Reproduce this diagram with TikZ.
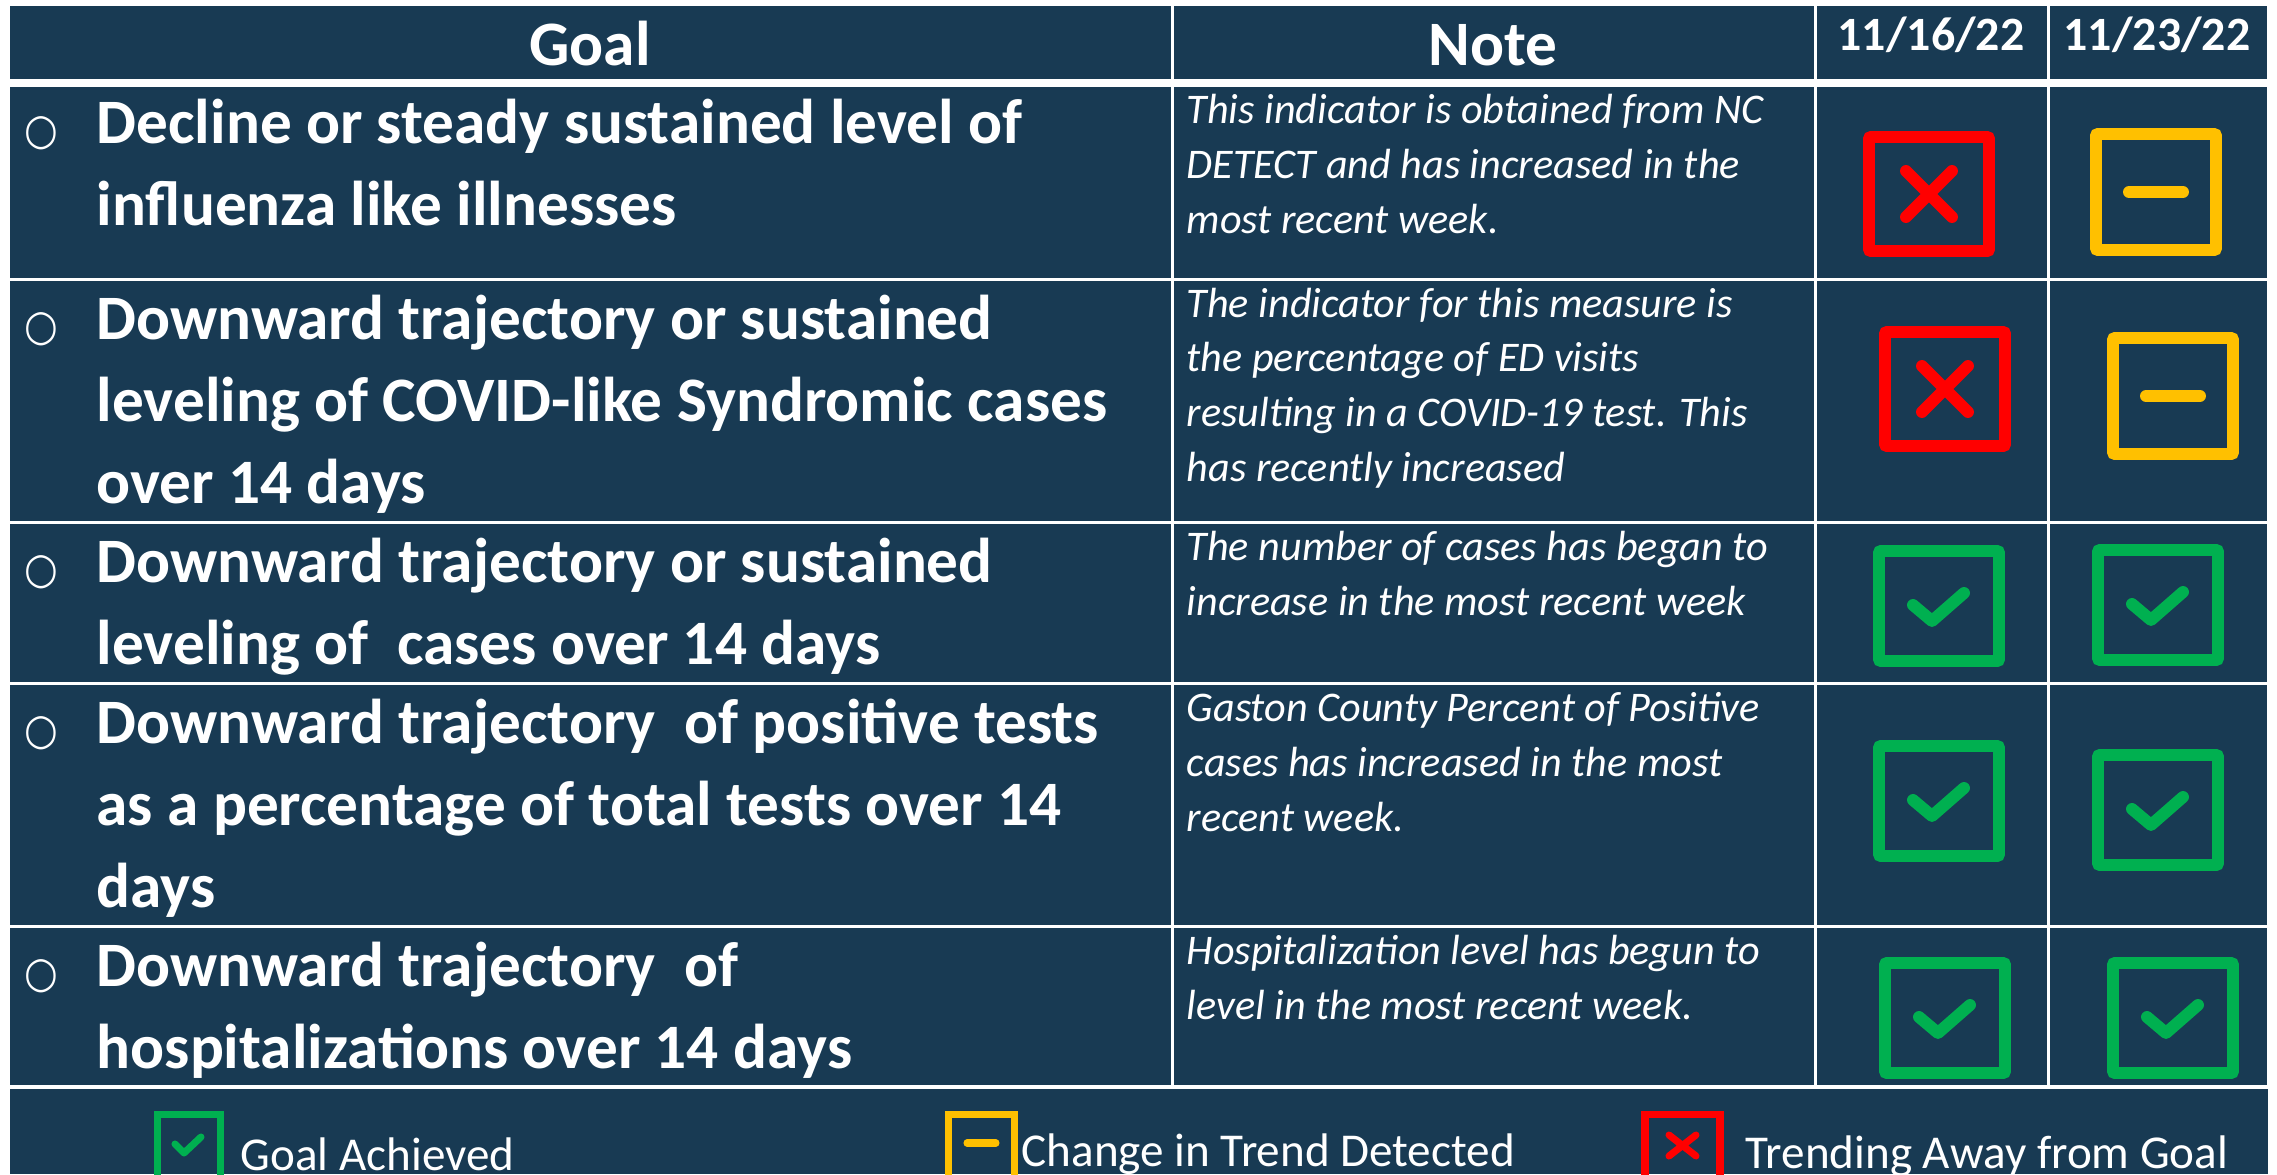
\documentclass[tikz,border=0pt]{standalone}
\usepackage{fontspec}
\setmainfont{Carlito}
\newfontfamily\bulletfont{DejaVu Sans}
\usepackage{tikz}
\usetikzlibrary{positioning}
\definecolor{navy}{HTML}{183A53}
\definecolor{achieved}{HTML}{00B050}
\definecolor{change}{HTML}{FFC000}
\definecolor{away}{HTML}{FF0000}

\begin{document}
\begin{tikzpicture}[
    x=0.01cm, y=-0.01cm,
    cell/.style = {rectangle, fill=navy, draw=none, inner sep=0pt, anchor=north west},
    head/.style = {text=white, font=\fontsize{18}{22}\selectfont\bfseries, inner sep=0pt, anchor=base},
    datehead/.style = {text=white, font=\fontsize{13.6}{16}\selectfont\bfseries, inner sep=0pt, anchor=base},
    goal/.style = {text=white, font=\fontsize{18}{23.3}\selectfont\bfseries, align=left, inner sep=0pt, anchor=base west},
    note/.style = {text=white, font=\fontsize{12}{15.5}\selectfont\itshape, align=left, inner sep=0pt, anchor=base west},
    bullet/.style = {text=white, font=\fontsize{11}{12}\selectfont\bulletfont, inner sep=0pt, anchor=center, yscale=1.12},
    keytext/.style = {text=white, font=\fontsize{13.4}{16}\selectfont, inner sep=0pt, anchor=base west},
    iconframe/.style = {line width=3.4pt, rounded corners=0.6pt},
    iconstroke/.style = {line width=3.4pt, line cap=round, line join=round},
    keyframe/.style = {line width=2pt},
    keystroke/.style = {line width=2pt, line cap=round, line join=round},
    okbox/.pic = {
        \draw[iconframe, achieved] (-60,-55) rectangle (60,55);
        \draw[iconstroke, achieved] (-26,-1) -- (-7,15) -- (25,-13);
    },
    changebox/.pic = {
        \draw[iconframe, change] (-60,-58) rectangle (60,58);
        \draw[iconstroke, change] (-27,0) -- (27,0);
    },
    awaybox/.pic = {
        \draw[iconframe, away] (-60,-57) rectangle (60,57);
        \draw[iconstroke, away] (-23,-23) -- (23,23) (-23,23) -- (23,-23);
    },
]
    \useasboundingbox (0,0) rectangle (2277,1175);
    \clip (0,0) rectangle (2277,1175);
    \fill[white] (0,0) rectangle (2277,1175);

    % header row
    \node[cell, minimum width=11.61cm, minimum height=0.73cm] (goalhead) at (9,5) {};
    \node[cell, minimum width=6.40cm, minimum height=0.73cm] (notehead) at (1173,5) {};
    \node[cell, minimum width=2.30cm, minimum height=0.73cm] (weekA) at (1816,5) {};
    \node[cell, minimum width=2.17cm, minimum height=0.73cm] (weekB) at (2049,5) {};
    \node[head] (goaltitle) at (590,65) {Goal};
    \node[head] (notetitle) at (1493,65) {Note};
    \node[datehead] (dateA) at (1931,50) {11/16/22};
    \node[datehead] (dateB) at (2157,50) {11/23/22};

    % row 1
    \node[cell, minimum width=11.61cm, minimum height=1.91cm] (g1) at (9,86) {};
    \node[cell, minimum width=6.40cm, minimum height=1.91cm] (n1) at (1173,86) {};
    \node[cell, minimum width=2.30cm, minimum height=1.91cm] (a1) at (1816,86) {};
    \node[cell, minimum width=2.17cm, minimum height=1.91cm] (b1) at (2049,86) {};
    % row 2
    \node[cell, minimum width=11.61cm, minimum height=2.40cm] (g2) at (9,280) {};
    \node[cell, minimum width=6.40cm, minimum height=2.40cm] (n2) at (1173,280) {};
    \node[cell, minimum width=2.30cm, minimum height=2.40cm] (a2) at (1816,280) {};
    \node[cell, minimum width=2.17cm, minimum height=2.40cm] (b2) at (2049,280) {};
    % row 3
    \node[cell, minimum width=11.61cm, minimum height=1.58cm] (g3) at (9,523) {};
    \node[cell, minimum width=6.40cm, minimum height=1.58cm] (n3) at (1173,523) {};
    \node[cell, minimum width=2.30cm, minimum height=1.58cm] (a3) at (1816,523) {};
    \node[cell, minimum width=2.17cm, minimum height=1.58cm] (b3) at (2049,523) {};
    % row 4
    \node[cell, minimum width=11.61cm, minimum height=2.40cm] (g4) at (9,684) {};
    \node[cell, minimum width=6.40cm, minimum height=2.40cm] (n4) at (1173,684) {};
    \node[cell, minimum width=2.30cm, minimum height=2.40cm] (a4) at (1816,684) {};
    \node[cell, minimum width=2.17cm, minimum height=2.40cm] (b4) at (2049,684) {};
    % row 5
    \node[cell, minimum width=11.61cm, minimum height=1.57cm] (g5) at (9,927) {};
    \node[cell, minimum width=6.40cm, minimum height=1.57cm] (n5) at (1173,927) {};
    \node[cell, minimum width=2.30cm, minimum height=1.57cm] (a5) at (1816,927) {};
    \node[cell, minimum width=2.17cm, minimum height=1.57cm] (b5) at (2049,927) {};
    % legend row
    \node[cell, minimum width=22.57cm, minimum height=0.85cm] (key) at (9,1088) {};

    % goals (anchored on their last line)
    \node[bullet] (dot1) at (41,133) {○};
    \node[goal] (goal1) at (96,225) {Decline or steady sustained level of\\influenza like illnesses};
    \node[bullet] (dot2) at (41,329) {○};
    \node[goal] (goal2) at (96,503) {Downward trajectory or sustained\\leveling of COVID-like Syndromic cases\\over 14 days};
    \node[bullet] (dot3) at (41,572) {○};
    \node[goal] (goal3) at (96,664) {Downward trajectory or sustained\\leveling of~ cases over 14 days};
    \node[bullet] (dot4) at (41,733) {○};
    \node[goal] (goal4) at (96,907) {Downward trajectory~ of positive tests\\as a percentage of total tests over 14\\days};
    \node[bullet] (dot5) at (41,976) {○};
    \node[goal] (goal5) at (96,1068) {Downward trajectory~ of\\hospitalizations over 14 days};

    % notes
    \node[note] (note1) at (1186,233) {This indicator is obtained from NC\\DETECT and has increased in the\\most recent week.};
    \node[note] (note2) at (1186,481) {The indicator for this measure is\\the percentage of ED visits\\resulting in a COVID-19 test. This\\has recently increased};
    \node[note] (note3) at (1186,615) {The number of cases has began to\\increase in the most recent week};
    \node[note] (note4) at (1186,831) {Gaston County Percent of Positive\\cases has increased in the most\\recent week.};
    \node[note] (note5) at (1186,1019) {Hospitalization level has begun to\\level in the most recent week.};

    % status marks
    \pic at (1929,194) {awaybox};
    \pic at (2156,192) {changebox};
    \pic at (1945,389) {awaybox};
    \pic at (2173,396) {changebox};
    \pic at (1939,606) {okbox};
    \pic at (2158,605) {okbox};
    \pic at (1939,801) {okbox};
    \pic at (2158,810) {okbox};
    \pic at (1945,1018) {okbox};
    \pic at (2173,1018) {okbox};

    % legend
    \draw[keyframe, achieved] (157.5,1114.5) rectangle (220.5,1215);
    \draw[keystroke, achieved] (175,1144) -- (184,1153) -- (201,1137);
    \node[keytext] (keyok) at (240,1170) {Goal Achieved};
    \draw[keyframe, change] (948.5,1114.5) rectangle (1014.5,1215);
    \draw[keystroke, change] (967,1143) -- (996,1143);
    \node[keytext] (keychange) at (1021,1166) {Change in Trend Detected};
    \draw[keyframe, away] (1645,1114.5) rectangle (1720,1215);
    \draw[keystroke, away] (1669,1135) -- (1696,1156) (1669,1156) -- (1696,1135);
    \node[keytext] (keyaway) at (1745,1168) {Trending Away from Goal};
\end{tikzpicture}
\end{document}
